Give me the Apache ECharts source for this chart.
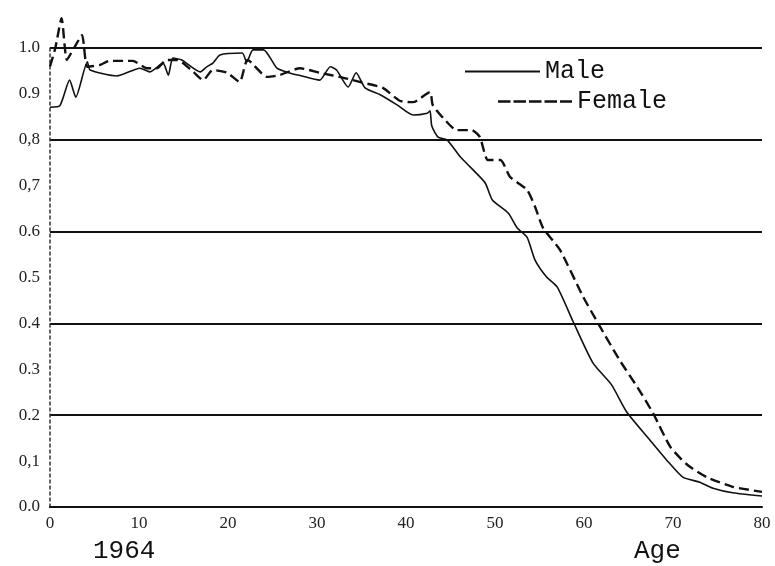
<!DOCTYPE html>
<html>
<head>
<meta charset="utf-8">
<script src="https://cdn.jsdelivr.net/npm/echarts@6/dist/echarts.min.js"></script>
<style>
  html, body { margin: 0; padding: 0; background: #fff; }
  #chart { width: 775px; height: 566px; }
</style>
</head>
<body>
<div id="chart"></div>
<script>
// ages / values
var maleAge = [0, 1.1, 2.2, 2.9, 4.2, 4.5, 7.5, 10.1, 11.2, 12.7, 13.3, 13.8, 14.8, 16.9, 17.6, 18.3, 19.1, 21.6, 22.1, 22.8, 24, 25.5, 27, 28.1, 30.3, 31.5, 32.2, 33.5, 34.4, 35.4, 37.1, 39, 40.8, 42.4, 42.7, 42.9, 43.6, 44.6, 46.1, 47.2, 48.9, 49.7, 51.5, 52.5, 53.6, 54.5, 55.8, 57, 58.8, 61, 63.1, 64.8, 67.4, 69.3, 71.1, 73, 74.5, 76.7, 80];
var maleVal = [0.871, 0.874, 0.93, 0.893, 0.97, 0.952, 0.939, 0.956, 0.948, 0.967, 0.941, 0.978, 0.974, 0.948, 0.959, 0.967, 0.985, 0.989, 0.969, 0.996, 0.996, 0.956, 0.945, 0.94, 0.93, 0.959, 0.952, 0.915, 0.946, 0.913, 0.898, 0.876, 0.854, 0.858, 0.863, 0.83, 0.806, 0.80, 0.763, 0.741, 0.706, 0.669, 0.64, 0.608, 0.588, 0.538, 0.501, 0.479, 0.403, 0.314, 0.266, 0.207, 0.146, 0.102, 0.065, 0.054, 0.041, 0.031, 0.024];

var femaleAge = [0, 0.6, 1.3, 1.9, 2.7, 3.6, 4.2, 5.6, 6.7, 9.3, 10.9, 12, 13.1, 14.3, 16.1, 17.2, 18.3, 19.9, 21.3, 22.2, 24.4, 25.8, 28.1, 30.3, 33, 35, 37.4, 39.3, 40.8, 42.7, 43, 44.2, 45.7, 47.4, 48.3, 49.2, 50.6, 51.7, 53.6, 54.5, 55.4, 57.3, 59.9, 61.5, 64, 66, 67.8, 69.7, 71.6, 73.8, 76.7, 80];
var femaleVal = [0.96, 1.0, 1.065, 0.974, 1.0, 1.028, 0.959, 0.963, 0.972, 0.972, 0.956, 0.956, 0.974, 0.974, 0.948, 0.93, 0.952, 0.946, 0.926, 0.974, 0.937, 0.941, 0.956, 0.946, 0.935, 0.925, 0.913, 0.885, 0.882, 0.904, 0.876, 0.847, 0.821, 0.821, 0.806, 0.756, 0.756, 0.719, 0.691, 0.654, 0.608, 0.56, 0.458, 0.403, 0.32, 0.261, 0.203, 0.131, 0.092, 0.065, 0.044, 0.033];

var yTickLabels = ['0.0', '0,1', '0.2', '0.3', '0.4', '0.5', '0.6', '0,7', '0,8', '0.9', '1.0'];

function pairs(xs, ys) {
  return xs.map(function (x, i) { return [x, ys[i]]; });
}

var monoText = { fontFamily: 'Liberation Mono', fontSize: 25, fontWeight: 'normal', color: '#111' };

var chart = echarts.init(document.getElementById('chart'));

var option = {
  backgroundColor: '#fff',
  animation: false,
  title: [
    { text: '1964', left: 93, top: 538, padding: 0, textStyle: { fontFamily: 'Liberation Mono', fontSize: 26, fontWeight: 'normal', color: '#111' } },
    { text: 'Age', left: 634, top: 538, padding: 0, textStyle: { fontFamily: 'Liberation Mono', fontSize: 26, fontWeight: 'normal', color: '#111' } }
  ],
  legend: [
    {
      data: [{ name: 'Male', icon: 'path://M0,0H75V2H0Z' }],
      left: 465, top: 59, padding: 0,
      itemWidth: 75, itemHeight: 2,
      textStyle: monoText
    },
    {
      data: [{ name: 'Female', icon: 'path://M0,0H12.5V2.5H0Z M15.5,0H28V2.5H15.5Z M31,0H43.5V2.5H31Z M46.5,0H59V2.5H46.5Z M62,0H74V2.5H62Z' }],
      left: 498, top: 89, padding: 0,
      itemWidth: 74, itemHeight: 2.5,
      textStyle: monoText
    }
  ],
  grid: { left: 50, right: 13, top: 48, bottom: 59 },
  xAxis: {
    type: 'value', min: 0, max: 80, interval: 10,
    axisLine: { show: true, onZero: false, lineStyle: { color: '#111', width: 2 } },
    axisTick: { show: false },
    splitLine: { show: false },
    axisLabel: { margin: 8, fontFamily: 'Liberation Serif', fontSize: 17, color: '#222' }
  },
  yAxis: [
    {
      type: 'value', min: 0, max: 1, interval: 0.1,
      axisLine: { show: true, lineStyle: { color: '#333', width: 1.5, type: [3, 3] } },
      axisTick: { show: false },
      splitLine: { show: false },
      axisLabel: {
        margin: 10, fontFamily: 'Liberation Serif', fontSize: 17, color: '#222',
        formatter: function (v) { return yTickLabels[Math.round(v * 10)]; }
      }
    },
    {
      type: 'value', min: 0, max: 1, interval: 0.2, position: 'left',
      axisLine: { show: false }, axisTick: { show: false },
      axisLabel: { show: false },
      splitLine: { show: true, lineStyle: { color: '#111', width: 2 } }
    }
  ],
  series: [
    {
      name: 'Male', type: 'line', data: pairs(maleAge, maleVal),
      symbol: 'none', smooth: 0.2, clip: false,
      lineStyle: { color: '#111', width: 1.6 },
      itemStyle: { color: '#111' }
    },
    {
      name: 'Female', type: 'line', data: pairs(femaleAge, femaleVal),
      symbol: 'none', smooth: 0.2, clip: false,
      lineStyle: { color: '#111', width: 2.4, type: [10, 5] },
      itemStyle: { color: '#111' }
    }
  ]
};

chart.setOption(option);
</script>
</body>
</html>
